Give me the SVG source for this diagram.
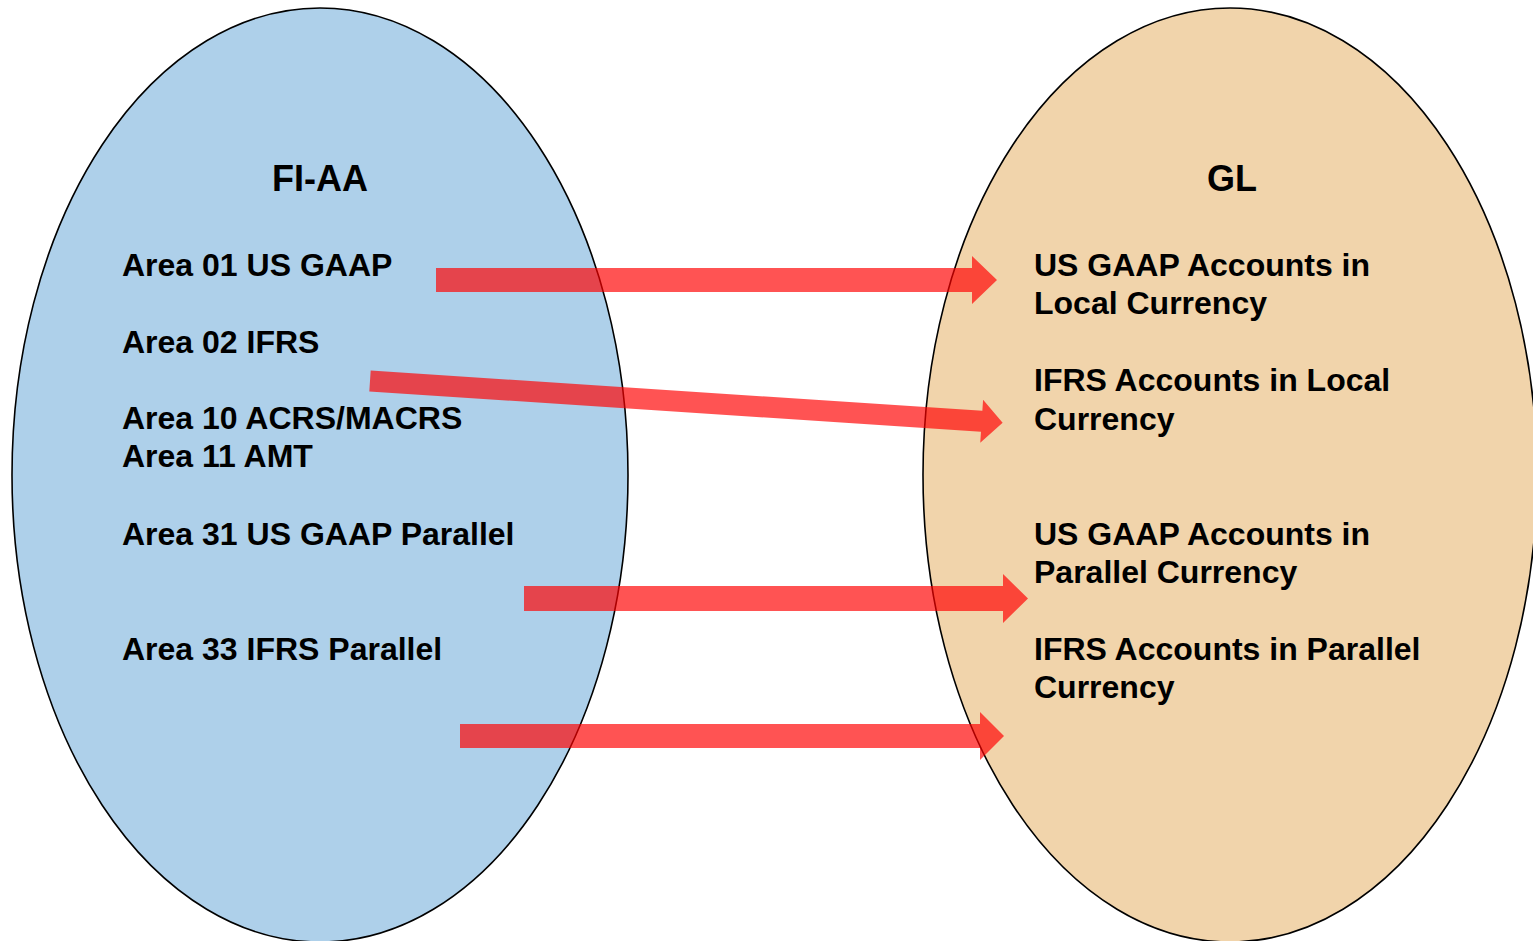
<svg xmlns="http://www.w3.org/2000/svg" width="1533" height="941" viewBox="0 0 1533 941">
  <style>
    .set { stroke: #000; stroke-width: 1.6; }
    .fiaa { fill: #AED0EA; }
    .gl { fill: #F1D4AB; }
    .title { font-family: "Liberation Sans", Arial, sans-serif; font-weight: bold; font-size: 36px; fill: #000; text-anchor: middle; }
    .item { font-family: "Liberation Sans", Arial, sans-serif; font-weight: bold; font-size: 32px; fill: #000; }
    .flow { fill: #FF0000; fill-opacity: 0.675; }
  </style>

  <!-- Asset accounting set -->
  <g id="node-fiaa">
    <ellipse class="set fiaa" cx="320" cy="475" rx="308" ry="467"/>
    <text class="title" x="320" y="191">FI-AA</text>
    <text class="item" x="122" y="276">Area 01 US GAAP</text>
    <text class="item" x="122" y="353">Area 02 IFRS</text>
    <text class="item" x="122" y="429">Area 10 ACRS/MACRS</text>
    <text class="item" x="122" y="467">Area 11 AMT</text>
    <text class="item" x="122" y="545">Area 31 US GAAP Parallel</text>
    <text class="item" x="122" y="660">Area 33 IFRS Parallel</text>
  </g>

  <!-- General ledger set -->
  <g id="node-gl">
    <ellipse class="set gl" cx="1230" cy="475" rx="307" ry="467"/>
    <text class="title" x="1232" y="191">GL</text>
    <text class="item" x="1034" y="276">US GAAP Accounts in</text>
    <text class="item" x="1034" y="314">Local Currency</text>
    <text class="item" x="1034" y="391">IFRS Accounts in Local</text>
    <text class="item" x="1034" y="430">Currency</text>
    <text class="item" x="1034" y="545">US GAAP Accounts in</text>
    <text class="item" x="1034" y="583">Parallel Currency</text>
    <text class="item" x="1034" y="660">IFRS Accounts in Parallel</text>
    <text class="item" x="1034" y="698">Currency</text>
  </g>

  <!-- Posting flows from depreciation areas to ledger accounts -->
  <g id="connectors">
    <polygon class="flow" points="436,268 972,268 972,256 997,280 972,304 972,292 436,292"/>
    <g transform="translate(370,381) rotate(3.77)">
      <polygon class="flow" points="0,-10.5 613,-10.5 613,-21.5 634,0 613,21.5 613,10.5 0,10.5"/>
    </g>
    <polygon class="flow" points="524,586 1003,586 1003,574 1028,598.5 1003,623 1003,611 524,611"/>
    <polygon class="flow" points="460,724 980,724 980,712 1004,736 980,760 980,748 460,748"/>
  </g>
</svg>
